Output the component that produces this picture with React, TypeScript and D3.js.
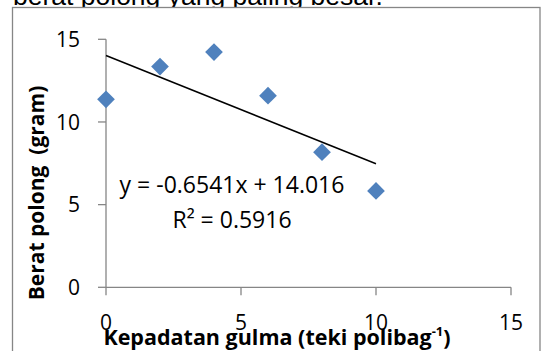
import React from "react";
import * as d3 from "d3";

// kepadatan gulma (teki per polibag) vs berat polong (gram)
const density = [0, 2, 4, 6, 8, 10];
const podWeight = [11.37, 13.35, 14.23, 11.59, 8.17, 5.83];
const xTicks = [0, 5, 10, 15];
const yTicks = [0, 5, 10, 15];
const slope = -0.6541;
const intercept = 14.016;
const rSquared = 0.5916;

const W = 545;
const H = 351;
const font = "'Open Sans', 'Liberation Sans', sans-serif";

export default function App() {
  const x = d3.scaleLinear().domain([0, 15]).range([106, 511]);
  const y = d3.scaleLinear().domain([0, 15]).range([287.3, 39.3]);

  const points = density.map((d, i) => ({ x: d, y: podWeight[i] }));
  const trendX = [d3.min(density), d3.max(density)];
  const line = d3
    .line<number>()
    .x((d) => x(d))
    .y((d) => y(slope * d + intercept));

  const diamond = d3.symbol().type(d3.symbolDiamond2).size(200)();

  return (
    <svg
      width={W}
      height={H}
      style={{ position: "absolute", left: 0, top: 0, background: "#fff" }}
    >
      <text x={13} y={5} fontFamily="'Liberation Sans', Arial, sans-serif" fontSize={26.5} fill="#000">
        berat polong yang paling besar.
      </text>
      <rect x={12.5} y={7.5} width={527.5} height={360} fill="#fff" stroke="#868686" strokeWidth={1.3} />

      {/* axes */}
      <line x1={x(0)} x2={x(15)} y1={y(0)} y2={y(0)} stroke="#868686" strokeWidth={1.3} />
      <line x1={x(0)} x2={x(0)} y1={y(0)} y2={y(15)} stroke="#868686" strokeWidth={1.3} />
      {xTicks.map((t) => (
        <g key={"x" + t}>
          <line x1={x(t)} x2={x(t)} y1={y(0)} y2={y(0) + 8} stroke="#868686" strokeWidth={1.3} />
          <text x={x(t)} y={330} textAnchor="middle" fontFamily={font} fontSize={21} fill="#000">
            {t}
          </text>
        </g>
      ))}
      {yTicks.map((t) => (
        <g key={"y" + t}>
          <line x1={x(0) - 8} x2={x(0)} y1={y(t)} y2={y(t)} stroke="#868686" strokeWidth={1.3} />
          <text x={80} y={y(t)} dy="0.36em" textAnchor="end" fontFamily={font} fontSize={21} fill="#000">
            {t}
          </text>
        </g>
      ))}

      {/* trendline */}
      <path d={line(trendX) || ""} fill="none" stroke="#000" strokeWidth={1.5} />

      {points.map((p, i) => (
        <path key={i} d={diamond || ""} transform={`translate(${x(p.x)},${y(p.y)})`} fill="#4F81BD" />
      ))}

      <text x={232} y={193} textAnchor="middle" fontFamily={font} fontSize={23} fill="#000">
        y = {slope}x + {intercept}
      </text>
      <text x={232} y={228} textAnchor="middle" fontFamily={font} fontSize={23} fill="#000">
        R² = {rSquared}
      </text>

      <text x={277} y={345} textAnchor="middle" fontFamily={font} fontSize={21.5} fontWeight="bold" fill="#000">
        Kepadatan gulma (teki polibag
        <tspan dy={-9} fontSize={13}>-1</tspan>
        <tspan dy={9}>)</tspan>
      </text>
      <text
        transform="translate(44,193) rotate(-90)"
        textAnchor="middle"
        fontFamily={font}
        fontSize={21}
        fontWeight="bold"
        fill="#000"
        style={{ whiteSpace: "pre" }}
      >
        Berat polong  (gram)
      </text>
    </svg>
  );
}
